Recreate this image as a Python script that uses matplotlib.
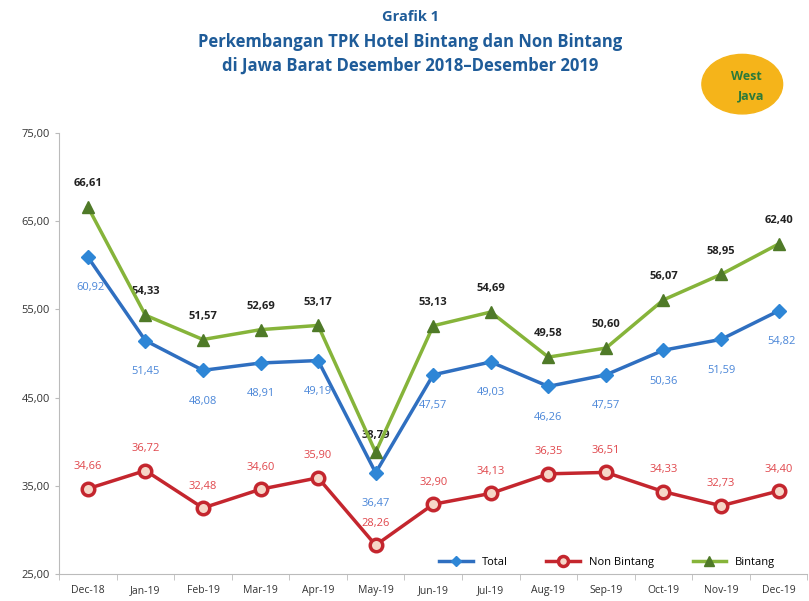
import matplotlib
matplotlib.use('Agg')
import matplotlib.pyplot as plt
from matplotlib.patches import Ellipse

months = ['Dec-18', 'Jan-19', 'Feb-19', 'Mar-19', 'Apr-19', 'May-19', 'Jun-19',
          'Jul-19', 'Aug-19', 'Sep-19', 'Oct-19', 'Nov-19', 'Dec-19']
total = [60.92, 51.45, 48.08, 48.91, 49.19, 36.47, 47.57, 49.03, 46.26, 47.57, 50.36, 51.59, 54.82]
non_bintang = [34.66, 36.72, 32.48, 34.60, 35.90, 28.26, 32.90, 34.13, 36.35, 36.51, 34.33, 32.73, 34.40]
bintang = [66.61, 54.33, 51.57, 52.69, 53.17, 38.79, 53.13, 54.69, 49.58, 50.60, 56.07, 58.95, 62.40]
yticks = [25, 35, 45, 55, 65, 75]

plt.rcParams['font.family'] = ['Open Sans', 'DejaVu Sans']

fig = plt.figure(figsize=(8.09, 6.01), dpi=100)
ax = fig.add_axes([0.073, 0.045, 0.925, 0.734])
x = range(len(months))

ax.plot(x, total, color='#2F6FC0', lw=2.5, marker='D', ms=7, mfc='#2E86D6', mec='#2E86D6', label='Total', zorder=3)
ax.plot(x, non_bintang, color='#C4262E', lw=2.5, marker='o', ms=9, mfc='#F6D7C8', mec='#C4262E', mew=2.5, label='Non Bintang', zorder=3)
ax.plot(x, bintang, color='#86B43A', lw=2.5, marker='^', ms=9, mfc='#4F7A28', mec='#4F7A28', label='Bintang', zorder=4)

fmt = lambda v: ('%.2f' % v).replace('.', ',')
for i, v in enumerate(bintang):
    dy = 15 if i != 5 else 10
    ax.annotate(fmt(v), (i, v), xytext=(0, dy), textcoords='offset points', ha='center',
                fontsize=8, fontweight='bold', color='#222222')
for i, v in enumerate(total):
    dx, dy = 0, -24
    if i in (0, 12):
        dx = 2
    ax.annotate(fmt(v), (i, v), xytext=(dx, dy), textcoords='offset points', ha='center',
                fontsize=8, color='#4A86D8')
for i, v in enumerate(non_bintang):
    ax.annotate(fmt(v), (i, v), xytext=(0, 14), textcoords='offset points', ha='center',
                fontsize=8, color='#E0474C')

ax.set_xlim(-0.5, len(months) - 0.5)
ax.set_ylim(25, 75)
ax.set_yticks(yticks)
ax.set_yticklabels([fmt(t) for t in yticks], fontsize=8, color='#333333')
ax.set_xticks(list(x))
ax.set_xticklabels(months, fontsize=7.5, color='#333333')
ax.set_xticks([i + 0.5 for i in range(-1, len(months))], minor=True)
ax.tick_params(axis='x', which='major', length=0, pad=8)
ax.tick_params(axis='x', which='minor', length=4, color='#BBBBBB')
ax.tick_params(axis='y', length=3, color='#BBBBBB')
for s in ['top', 'right']:
    ax.spines[s].set_visible(False)
for s in ['left', 'bottom']:
    ax.spines[s].set_color('#BBBBBB')

ax.legend(loc='lower right', ncol=3, frameon=False, fontsize=8, bbox_to_anchor=(0.97, -0.01),
          handlelength=3, columnspacing=3.5, markerscale=0.8)

tc = '#1F5C99'
fig.text(0.507, 0.972, 'Grafik 1', ha='center', va='center', fontsize=10.5, fontweight='bold', color=tc)
fig.text(0.507, 0.930, 'Perkembangan TPK Hotel Bintang dan Non Bintang', ha='center', va='center',
         fontsize=12, fontweight='bold', color=tc)
fig.text(0.507, 0.890, 'di Jawa Barat Desember 2018\u2013Desember 2019', ha='center', va='center',
         fontsize=12, fontweight='bold', color=tc)

# logo
lax = fig.add_axes([0.865, 0.805, 0.105, 0.11])
lax.set_xlim(0, 1)
lax.set_ylim(0, 1)
lax.axis('off')
lax.add_patch(Ellipse((0.5, 0.5), 0.95, 0.9, color='#F5B41A'))
lax.text(0.55, 0.62, 'West', ha='center', va='center', fontsize=9, fontweight='bold', color='#2B7A3A')
lax.text(0.6, 0.32, 'Java', ha='center', va='center', fontsize=9, fontweight='bold', color='#2B7A3A')

fig.savefig('out.png', dpi=100)
